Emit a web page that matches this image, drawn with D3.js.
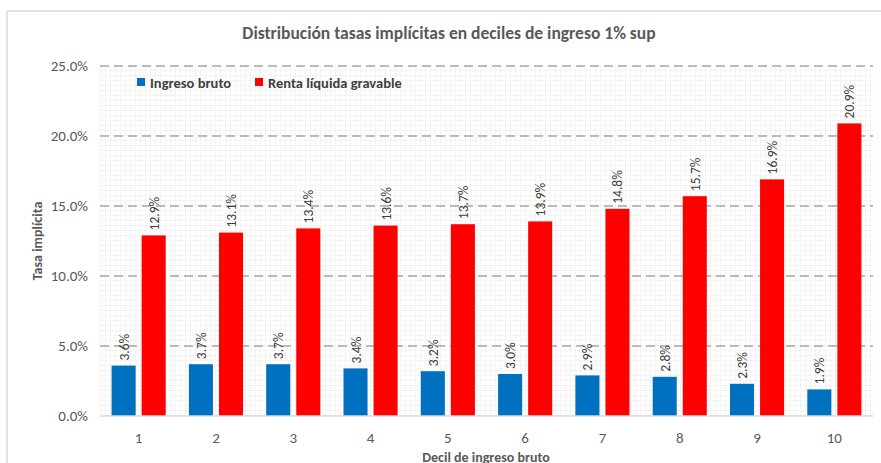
<!DOCTYPE html>
<html>
<head>
<meta charset="utf-8">
<script src="https://cdn.jsdelivr.net/npm/d3@7"></script>
<style>
  body { margin: 0; background: #fff; }
  text { font-family: Carlito, Calibri, Lato, sans-serif; }
</style>
</head>
<body>
<div id="chart"></div>
<script>
var width = 881, height = 463;

var deciles = ["1","2","3","4","5","6","7","8","9","10"];
var series = ["Ingreso bruto", "Renta líquida gravable"];
var ingresoBruto = [3.6, 3.7, 3.7, 3.4, 3.2, 3.0, 2.9, 2.8, 2.3, 1.9];
var rentaLiquida = [12.9, 13.1, 13.4, 13.6, 13.7, 13.9, 14.8, 15.7, 16.9, 20.9];
var yTicks = [0, 5, 10, 15, 20, 25];
var colors = ["#0070c0", "#ff0000"];

var margin = {left: 100, right: 8, top: 66, bottom: 47};

var svg = d3.select("#chart").append("svg")
	.attr("width", width)
	.attr("height", height);

// chart frame (only left and top edges visible in the crop)
svg.append("line").attr("x1", 7).attr("x2", 7).attr("y1", 11).attr("y2", height)
	.attr("stroke", "#e3e3e3").attr("stroke-width", 2);
svg.append("line").attr("x1", 7).attr("x2", width).attr("y1", 11).attr("y2", 11)
	.attr("stroke", "#e3e3e3").attr("stroke-width", 2);

var x0 = d3.scaleBand()
	.domain(deciles)
	.range([margin.left, width - margin.right])
	.paddingInner(0.3).paddingOuter(0.15);

var x1 = d3.scaleBand()
	.domain(series)
	.range([0, x0.bandwidth()])
	.paddingInner(0.2);

var y = d3.scaleLinear()
	.domain([0, 25])
	.range([height - margin.bottom, margin.top]);

// small grid pattern in the plot area
var defs = svg.append("defs");
var pat = defs.append("pattern")
	.attr("id", "smallgrid")
	.attr("width", 5).attr("height", 5)
	.attr("patternUnits", "userSpaceOnUse");
pat.append("rect").attr("width", 5).attr("height", 5).attr("fill", "#fff");
pat.append("path").attr("d", "M0,0.5H5M0.5,0V5")
	.attr("stroke", "#f3f3f3").attr("stroke-width", 1);

svg.append("rect")
	.attr("x", margin.left).attr("y", margin.top)
	.attr("width", width - margin.right - margin.left)
	.attr("height", y(0) - margin.top)
	.attr("fill", "url(#smallgrid)");

// Title
svg.append("text")
	.attr("x", 449).attr("y", 39)
	.attr("text-anchor", "middle")
	.attr("font-size", 17.5).attr("font-weight", "bold")
	.attr("fill", "#595959")
	.text("Distribución tasas implícitas en deciles de ingreso 1% sup");

// gridlines
svg.append("g").selectAll("line")
	.data(yTicks.filter(function(d) { return d > 0; }))
	.enter().append("line")
	.attr("x1", margin.left).attr("x2", width - margin.right)
	.attr("y1", function(d) { return y(d); }).attr("y2", function(d) { return y(d); })
	.attr("stroke", "#a6a6a6").attr("stroke-width", 1.5)
	.attr("stroke-dasharray", "9,5");

// y tick labels
svg.append("g").selectAll("text")
	.data(yTicks).enter().append("text")
	.attr("x", 88).attr("y", function(d) { return y(d) + 5; })
	.attr("text-anchor", "end")
	.attr("font-size", 15).attr("fill", "#595959")
	.text(function(d) { return d.toFixed(1) + "%"; });

// y axis title
svg.append("text")
	.attr("transform", "translate(42," + ((margin.top + y(0)) / 2) + ") rotate(-90)")
	.attr("text-anchor", "middle")
	.attr("font-size", 14).attr("font-weight", "bold").attr("fill", "#595959")
	.text("Tasa implícita");

// bars
var rows = deciles.map(function(d, i) {
	return {decil: d, values: [
		{key: series[0], v: ingresoBruto[i], c: colors[0]},
		{key: series[1], v: rentaLiquida[i], c: colors[1]}
	]};
});

var groups = svg.append("g").selectAll("g")
	.data(rows).enter().append("g")
	.attr("transform", function(d) { return "translate(" + x0(d.decil) + ",0)"; });

groups.selectAll("rect")
	.data(function(d) { return d.values; })
	.enter().append("rect")
	.attr("x", function(d) { return x1(d.key); })
	.attr("width", x1.bandwidth())
	.attr("y", function(d) { return y(d.v); })
	.attr("height", function(d) { return y(0) - y(d.v); })
	.attr("fill", function(d) { return d.c; });

// data labels (rotated)
groups.selectAll("text")
	.data(function(d) { return d.values; })
	.enter().append("text")
	.attr("transform", function(d) {
		return "translate(" + (x1(d.key) + x1.bandwidth() / 2 + 5) + "," + (y(d.v) - 5) + ") rotate(-90)";
	})
	.attr("text-anchor", "start")
	.attr("font-size", 13.5).attr("fill", "#404040")
	.text(function(d) { return d.v.toFixed(1) + "%"; });

// x axis line
svg.append("line")
	.attr("x1", margin.left).attr("x2", width - margin.right)
	.attr("y1", y(0)).attr("y2", y(0))
	.attr("stroke", "#d9d9d9").attr("stroke-width", 1.5);

// x tick labels
svg.append("g").selectAll("text")
	.data(deciles).enter().append("text")
	.attr("x", function(d) { return x0(d) + x0.bandwidth() / 2; })
	.attr("y", 443)
	.attr("text-anchor", "middle")
	.attr("font-size", 15).attr("fill", "#595959")
	.text(function(d) { return d; });

// x axis title
svg.append("text")
	.attr("x", 486).attr("y", 462)
	.attr("text-anchor", "middle")
	.attr("font-size", 14).attr("font-weight", "bold").attr("fill", "#595959")
	.text("Decil de ingreso bruto");

// legend
var legendX = [137, 255];
var legend = svg.append("g").selectAll("g")
	.data(series).enter().append("g")
	.attr("transform", function(d, i) { return "translate(" + legendX[i] + ",78)"; });
legend.append("rect")
	.attr("width", 8).attr("height", 8)
	.attr("fill", function(d, i) { return colors[i]; });
legend.append("text")
	.attr("x", 13).attr("y", 9.5)
	.attr("font-size", 14.5).attr("font-weight", "600").attr("fill", "#404040")
	.text(function(d) { return d; });
</script>
</body>
</html>
